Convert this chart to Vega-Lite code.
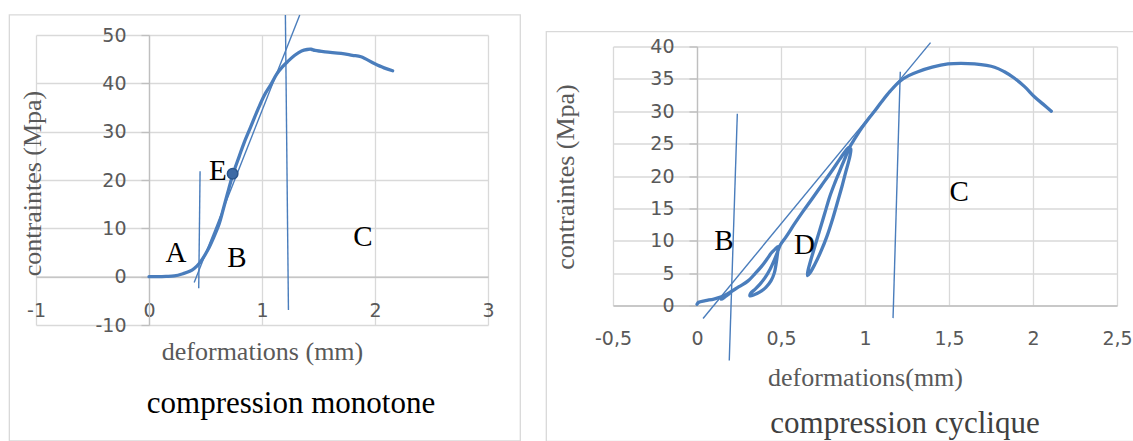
{
  "$schema": "https://vega.github.io/schema/vega-lite/v6.json",
  "padding": {"left": 8, "top": 14, "right": 0, "bottom": 0},
  "spacing": 24,
  "config": {
    "view": {"stroke": null},
    "axis": {
      "grid": true, "gridColor": "#d9d9d9", "gridWidth": 1.3,
      "domainColor": "#bfbfbf", "domainWidth": 1.3,
      "tickColor": "#bfbfbf", "tickWidth": 1.3, "tickSize": 8,
      "labelFont": "DejaVu Sans", "labelFontSize": 19, "labelColor": "#595959",
      "labelOverlap": false, "labelFlush": false,
      "titleFont": "Liberation Serif", "titleFontSize": 26, "titleFontWeight": "normal", "titleColor": "#595959"
    },
    "title": {"font": "Liberation Serif", "fontSize": 31, "fontWeight": "normal"}
  },
  "datasets": {
    "mono": [
      {"x": 0, "y": 0}, {"x": 0.08, "y": 0}, {"x": 0.15, "y": 0.05}, {"x": 0.224, "y": 0.15},
      {"x": 0.3, "y": 0.6}, {"x": 0.36, "y": 1.1}, {"x": 0.4, "y": 1.7}, {"x": 0.45, "y": 2.9},
      {"x": 0.52, "y": 5.5}, {"x": 0.57, "y": 8.0}, {"x": 0.622, "y": 11.0}, {"x": 0.66, "y": 14.2},
      {"x": 0.696, "y": 17.3}, {"x": 0.74, "y": 21.0}, {"x": 0.8, "y": 25.0}, {"x": 0.843, "y": 27.8},
      {"x": 0.9, "y": 31.0}, {"x": 0.962, "y": 34.5}, {"x": 1.02, "y": 37.5}, {"x": 1.08, "y": 39.8},
      {"x": 1.13, "y": 41.9}, {"x": 1.18, "y": 43.4}, {"x": 1.227, "y": 44.5}, {"x": 1.29, "y": 45.8},
      {"x": 1.35, "y": 46.7}, {"x": 1.4, "y": 47.0}, {"x": 1.434, "y": 47.05}, {"x": 1.47, "y": 46.8},
      {"x": 1.56, "y": 46.5}, {"x": 1.7, "y": 46.2}, {"x": 1.8, "y": 45.8}, {"x": 1.876, "y": 45.5},
      {"x": 1.994, "y": 44.1}, {"x": 2.08, "y": 43.2}, {"x": 2.156, "y": 42.6}
    ],
    "mono_lines": [
      {"x": 0.40, "y": -1.2, "x2": 1.334, "y2": 54.15},
      {"x": 0.44, "y": -2.4, "x2": 0.452, "y2": 21.8},
      {"x": 1.234, "y": -6.9, "x2": 1.207, "y2": 54.15}
    ],
    "mono_pts": [{"x": 0.74, "y": 21.3}],
    "mono_labels": [
      {"x": 0.239, "y": 4.97, "t": "A"},
      {"x": 0.777, "y": 3.9, "t": "B"},
      {"x": 1.894, "y": 8.3, "t": "C"},
      {"x": 0.61, "y": 21.9, "t": "E"}
    ],
    "mono_frame": [{"x": -1.236, "x2": 3.286, "y": 54.15, "y2": -34}],
    "cyc": [
      {"x": 0, "y": 0.2}, {"x": 0.01, "y": 0.5}, {"x": 0.05, "y": 0.75}, {"x": 0.1, "y": 1.0},
      {"x": 0.145, "y": 1.35}, {"x": 0.19, "y": 1.9}, {"x": 0.21, "y": 2.2}, {"x": 0.17, "y": 1.4},
      {"x": 0.145, "y": 0.95}, {"x": 0.155, "y": 1.3}, {"x": 0.2, "y": 2.1}, {"x": 0.25, "y": 2.9},
      {"x": 0.304, "y": 3.8}, {"x": 0.345, "y": 4.9}, {"x": 0.383, "y": 6.0}, {"x": 0.415, "y": 7.1},
      {"x": 0.442, "y": 8.1}, {"x": 0.465, "y": 8.7}, {"x": 0.482, "y": 9.1}, {"x": 0.478, "y": 7.8},
      {"x": 0.47, "y": 6.3}, {"x": 0.46, "y": 5.0}, {"x": 0.44, "y": 3.8}, {"x": 0.41, "y": 2.8},
      {"x": 0.375, "y": 2.1}, {"x": 0.34, "y": 1.65}, {"x": 0.315, "y": 1.5}, {"x": 0.32, "y": 1.9},
      {"x": 0.345, "y": 2.5}, {"x": 0.375, "y": 3.3}, {"x": 0.405, "y": 4.3}, {"x": 0.435, "y": 5.6},
      {"x": 0.46, "y": 7.0}, {"x": 0.48, "y": 8.3}, {"x": 0.495, "y": 9.3}, {"x": 0.53, "y": 10.6},
      {"x": 0.58, "y": 12.6}, {"x": 0.63, "y": 14.5}, {"x": 0.68, "y": 16.3}, {"x": 0.74, "y": 18.5},
      {"x": 0.8, "y": 20.7}, {"x": 0.85, "y": 22.6}, {"x": 0.885, "y": 23.9}, {"x": 0.905, "y": 24.4},
      {"x": 0.915, "y": 24.2}, {"x": 0.912, "y": 23.3}, {"x": 0.9, "y": 22.0}, {"x": 0.882, "y": 20.3},
      {"x": 0.862, "y": 18.3}, {"x": 0.84, "y": 16.3}, {"x": 0.81, "y": 13.6}, {"x": 0.775, "y": 10.8},
      {"x": 0.735, "y": 8.2}, {"x": 0.7, "y": 6.3}, {"x": 0.672, "y": 5.0}, {"x": 0.658, "y": 4.6},
      {"x": 0.66, "y": 5.3}, {"x": 0.675, "y": 6.8}, {"x": 0.7, "y": 9.0}, {"x": 0.73, "y": 11.6},
      {"x": 0.76, "y": 14.2}, {"x": 0.79, "y": 16.8}, {"x": 0.82, "y": 18.9}, {"x": 0.85, "y": 20.8},
      {"x": 0.88, "y": 22.7}, {"x": 0.91, "y": 24.5}, {"x": 0.94, "y": 25.8}, {"x": 0.98, "y": 27.4},
      {"x": 1.02, "y": 28.8}, {"x": 1.06, "y": 30.1}, {"x": 1.1, "y": 31.5}, {"x": 1.15, "y": 33.1},
      {"x": 1.206, "y": 34.6}, {"x": 1.26, "y": 35.5}, {"x": 1.315, "y": 36.1}, {"x": 1.4, "y": 36.8},
      {"x": 1.494, "y": 37.3}, {"x": 1.57, "y": 37.4}, {"x": 1.652, "y": 37.3}, {"x": 1.771, "y": 36.8},
      {"x": 1.83, "y": 36.1}, {"x": 1.89, "y": 35.1}, {"x": 1.95, "y": 33.8}, {"x": 2.01, "y": 32.2},
      {"x": 2.06, "y": 31.1}, {"x": 2.109, "y": 30.0}
    ],
    "cyc_lines": [
      {"x": 0.036, "y": -2.0, "x2": 1.39, "y2": 40.6},
      {"x": 0.192, "y": -8.5, "x2": 0.24, "y2": 29.6},
      {"x": 1.167, "y": -1.95, "x2": 1.21, "y2": 36.1}
    ],
    "cyc_labels": [
      {"x": 0.16, "y": 9.9, "t": "B"},
      {"x": 0.639, "y": 9.27, "t": "D"},
      {"x": 1.56, "y": 17.5, "t": "C"}
    ],
    "cyc_frame": [{"x": -0.897, "x2": 2.75, "y": 42.3, "y2": -21}]
  },
  "hconcat": [
    {
      "width": 452,
      "height": 290,
      "title": {"text": "compression monotone", "orient": "bottom", "frame": "group", "anchor": "middle", "dx": 29, "offset": -37.5, "baseline": "middle", "color": "#000000"},
      "encoding": {
        "x": {
          "field": "x", "type": "quantitative",
          "scale": {"domain": [-1, 3], "nice": false, "zero": false},
          "axis": {"values": [-1, 0, 1, 2, 3], "offset": -48.3, "ticks": false, "tickSize": 0, "labelPadding": 25,
                   "labelExpr": "replace(datum.label, '−', '-')",
                   "title": "deformations (mm)", "titleY": 75, "titleBaseline": "middle"}
        },
        "y": {
          "field": "y", "type": "quantitative",
          "scale": {"domain": [-10, 50], "nice": false, "zero": false},
          "axis": {"values": [-10, 0, 10, 20, 30, 40, 50], "offset": -113, "labelPadding": 15,
                   "labelExpr": "replace(datum.label, '−', '-')",
                   "title": "contraintes (Mpa)", "titleX": -117, "titleY": 148, "titleAngle": -90,
                   "titleAlign": "center", "titleBaseline": "middle"}
        }
      },
      "layer": [
        {
          "data": {"name": "mono_frame"},
          "mark": {"type": "rect", "fill": "transparent", "stroke": "#d9d9d9", "strokeWidth": 1.3},
          "encoding": {"x2": {"field": "x2"}, "y2": {"field": "y2"}}
        },
        {
          "data": {"name": "mono_lines"},
          "mark": {"type": "rule", "color": "#4a7dbc", "strokeWidth": 1.4},
          "encoding": {"x2": {"field": "x2"}, "y2": {"field": "y2"}}
        },
        {
          "data": {"name": "mono"},
          "mark": {"type": "line", "color": "#4a7dbc", "strokeWidth": 3.3, "strokeCap": "round", "strokeJoin": "round", "interpolate": "catmull-rom"},
          "encoding": {"order": {"value": null}}
        },
        {
          "data": {"name": "mono_pts"},
          "mark": {"type": "point", "filled": true, "size": 110, "color": "#3d6aa5", "stroke": "#2b568c", "strokeWidth": 1.5, "opacity": 1}
        },
        {
          "data": {"name": "mono_labels"},
          "mark": {"type": "text", "font": "Liberation Serif", "fontSize": 29, "align": "center", "baseline": "middle", "color": "#000000"},
          "encoding": {"text": {"field": "t"}}
        }
      ]
    },
    {
      "bounds": "flush",
      "spacing": 10.5,
      "vconcat": [
        {
          "width": 1,
          "height": 1,
          "data": {"values": []},
          "mark": "point"
        },
        {
          "width": 504,
          "height": 259,
          "title": {"text": "compression cyclique", "orient": "bottom", "frame": "group", "anchor": "middle", "dx": 40, "offset": -18.6, "baseline": "middle", "color": "#404040"},
          "encoding": {
            "x": {
              "field": "x", "type": "quantitative",
              "scale": {"domain": [-0.5, 2.5], "nice": false, "zero": false},
              "axis": {"values": [-0.5, 0, 0.5, 1, 1.5, 2, 2.5], "format": "~g", "offset": 0, "ticks": false, "tickSize": 0, "labelPadding": 24,
                       "labelExpr": "replace(replace(datum.label, '−', '-'), '.', ',')",
                       "title": "deformations(mm)", "titleY": 71.5, "titleBaseline": "middle"}
            },
            "y": {
              "field": "y", "type": "quantitative",
              "scale": {"domain": [0, 40], "nice": false, "zero": false},
              "axis": {"values": [0, 5, 10, 15, 20, 25, 30, 35, 40], "offset": -84, "labelPadding": 15,
                       "title": "contraintes (Mpa)", "titleX": -132, "titleY": 130, "titleAngle": -90,
                       "titleAlign": "center", "titleBaseline": "middle"}
            }
          },
          "layer": [
            {
              "data": {"name": "cyc_frame"},
              "mark": {"type": "rect", "fill": "transparent", "stroke": "#d9d9d9", "strokeWidth": 1.3},
              "encoding": {"x2": {"field": "x2"}, "y2": {"field": "y2"}}
            },
            {
              "data": {"name": "cyc_lines"},
              "mark": {"type": "rule", "color": "#4a7dbc", "strokeWidth": 1.4},
              "encoding": {"x2": {"field": "x2"}, "y2": {"field": "y2"}}
            },
            {
              "data": {"name": "cyc"},
              "mark": {"type": "line", "color": "#4a7dbc", "strokeWidth": 3.3, "strokeCap": "round", "strokeJoin": "round", "interpolate": "catmull-rom"},
              "encoding": {"order": {"value": null}}
            },
            {
              "data": {"name": "cyc_labels"},
              "mark": {"type": "text", "font": "Liberation Serif", "fontSize": 29, "align": "center", "baseline": "middle", "color": "#000000"},
              "encoding": {"text": {"field": "t"}}
            }
          ]
        }
      ]
    }
  ]
}
